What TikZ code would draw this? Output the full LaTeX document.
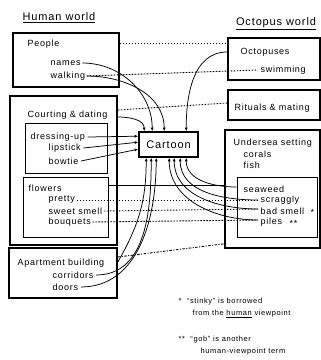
\documentclass[tikz,border=0pt]{standalone}
\usepackage{fontspec}
\setmainfont{Liberation Sans}[LetterSpace=8]
\usetikzlibrary{arrows.meta}
\tikzset{
  bigbox/.style={draw, line width=1.6pt, inner sep=0pt},
  smallbox/.style={draw, line width=0.8pt, inner sep=0pt},
  lbl/.style={anchor=west, inner sep=0.5pt, font=\fontsize{9}{10}\selectfont},
  head/.style={inner sep=0.5pt, font=\fontsize{11}{12}\selectfont},
  note/.style={anchor=west, inner sep=0.5pt, font=\fontsize{7.5}{8}\selectfont},
  dots/.style={dash pattern=on 1.6pt off 1.4pt, line width=0.9pt},
  dashdots/.style={dash pattern=on 2.5pt off 1.5pt on 1pt off 1.5pt, line width=0.9pt},
  conn/.style={line width=0.75pt, -{Latex[length=3.5pt,width=3pt]}},
  plain/.style={line width=0.75pt}
}
\begin{document}
\begin{tikzpicture}[x=1pt,y=1pt]
\useasboundingbox (0,0) rectangle (321,-360);
% headings
\node[head] (hw) at (59,-18) {\underline{Human world}};
\node[head] (ow) at (276,-24) {\underline{Octopus world}};
% boxes
\node[bigbox, minimum width=106pt, minimum height=54pt] (people) at (66,-60) {};
\node[bigbox, minimum width=107pt, minimum height=149pt] (courting) at (63.5,-170.5) {};
\node[smallbox, minimum width=82pt, minimum height=50pt] (dress) at (66,-148) {};
\node[smallbox, minimum width=85pt, minimum height=60pt] (flowers) at (65.5,-207) {};
\node[bigbox, minimum width=108pt, minimum height=50pt] (apt) at (63,-273) {};
\node[bigbox, minimum width=59pt, minimum height=25pt] (cartoon) at (168.5,-144.5) {};
\node[bigbox, minimum width=92pt, minimum height=42pt] (octo) at (274,-59) {};
\node[bigbox, minimum width=92pt, minimum height=30pt] (rituals) at (274,-105) {};
\node[bigbox, minimum width=95pt, minimum height=118pt] (undersea) at (272.5,-189) {};
\node[smallbox, minimum width=80pt, minimum height=60pt] (seaweed) at (277,-207) {};
% texts left
\node[lbl] (tpeople) at (27,-44) {People};
\node[lbl] (tnames) at (50,-63) {names};
\node[lbl] (twalking) at (50,-76) {walking};
\node[lbl] (tcourting) at (27,-115) {Courting \& dating};
\node[lbl] (tdress) at (30,-137) {dressing-up};
\node[lbl] (tlip) at (48,-148) {lipstick};
\node[lbl] (tbow) at (48,-161) {bowtie};
\node[lbl] (tflowers) at (28,-188) {flowers};
\node[lbl] (tpretty) at (48,-200) {pretty};
\node[lbl] (tsweet) at (48,-211) {sweet smell};
\node[lbl] (tbouq) at (48,-222) {bouquets};
\node[lbl] (tapt) at (17,-263) {Apartment building};
\node[lbl] (tcorr) at (52,-275) {corridors};
\node[lbl] (tdoors) at (52,-287) {doors};
% texts right
\node[lbl] (toct) at (240,-52) {Octopuses};
\node[lbl] (tswim) at (260,-70) {swimming};
\node[lbl] (trit) at (234,-108) {Rituals \& mating};
\node[lbl] (tunder) at (233,-143) {Undersea setting};
\node[lbl] (tcorals) at (243,-154) {corals};
\node[lbl] (tfish) at (243,-165) {fish};
\node[lbl] (tseaweed) at (243,-189) {seaweed};
\node[lbl] (tscrag) at (260,-200) {scraggly};
\node[lbl] (tbad) at (260,-211) {bad smell};
\node[lbl] (tstar) at (310,-212) {*};
\node[lbl] (tpiles) at (260,-222) {piles};
\node[lbl] (tstars) at (289,-223) {**};
\node[head] (tcartoon) at (cartoon.center) {Cartoon};
% footnotes
\node[note] (n1) at (178,-302) {*\ \ “stinky” is borrowed};
\node[note] (n2) at (192,-314) {from the \underline{human} viewpoint};
\node[note] (n3) at (178,-340) {**\ \ “gob” is another};
\node[note] (n4) at (200,-352) {human-viewpoint term};
% dotted correspondences
\draw[dots] ([yshift=17pt]people.east) -- ([yshift=16pt]octo.west);
\draw[dots] ([xshift=1pt]twalking.east) -- ([xshift=-2pt]tswim.west);
\draw[dots] ([yshift=60.5pt]courting.east) -- ([yshift=2pt]rituals.west);
\draw[dots] ([xshift=1pt]tpretty.east) -- ([xshift=-2pt]tscrag.west);
\draw[dots] ([xshift=1pt]tsweet.east) -- ([xshift=-2pt,yshift=2pt]tbad.west);
\draw[dots] ([xshift=1pt]tbouq.east) -- ([xshift=-2pt,yshift=2pt]tpiles.west);
\draw[dashdots] ([yshift=16pt]apt.east) -- ([yshift=5pt]undersea.south west);
\draw[plain] ([yshift=22pt]flowers.east) -- ([yshift=4pt]undersea.west);
% curves into the top of Cartoon
\draw[conn] ([yshift=53.5pt]courting.east) to[out=0,in=90] ([xshift=6pt]cartoon.north west);
\draw[conn] ([xshift=1pt]tnames.east) to[out=0,in=90] ([xshift=14pt]cartoon.north west);
\draw[conn] ([xshift=1pt]twalking.east) to[out=0,in=90] ([xshift=26pt]cartoon.north west);
\draw[conn] ([yshift=7pt]octo.west) to[out=180,in=90] ([xshift=48pt]cartoon.north west);
% left side
\draw[conn] ([xshift=2pt]tdress.east) -- ([yshift=-5pt]cartoon.north west);
\draw[conn] ([xshift=2pt]tlip.east) -- ([yshift=-11pt]cartoon.north west);
\draw[conn] ([xshift=2pt]tbow.east) -- ([yshift=-18pt]cartoon.north west);
% bottom left cluster
\draw[conn] ([yshift=11pt]apt.east) to[out=60,in=-90] ([xshift=8pt]cartoon.south west);
\draw[conn] ([xshift=2pt]tcorr.east) to[out=0,in=-90] ([xshift=13pt]cartoon.south west);
\draw[conn] ([xshift=2pt]tdoors.east) to[out=0,in=-90] ([xshift=18pt]cartoon.south west);
% bottom right cluster
\draw[conn] ([yshift=20pt]seaweed.west) to[out=180,in=-90] ([xshift=48pt]cartoon.south west);
\draw[conn] ([xshift=-2pt]tscrag.west) to[out=180,in=-90] ([xshift=42pt]cartoon.south west);
\draw[conn] ([xshift=-2pt,yshift=2pt]tbad.west) to[out=180,in=-90] ([xshift=36pt]cartoon.south west);
\draw[conn] ([xshift=-2pt,yshift=2pt]tpiles.west) to[out=180,in=-90] ([xshift=31pt]cartoon.south west);
\end{tikzpicture}
\end{document}
